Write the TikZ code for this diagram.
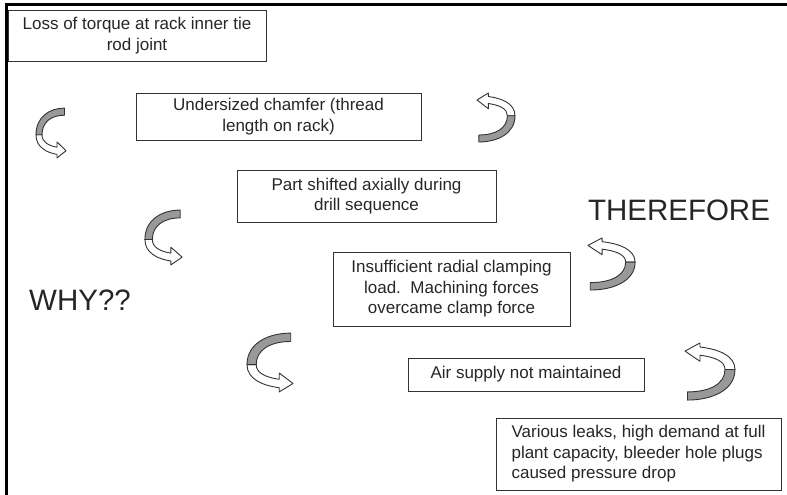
\documentclass[tikz,border=0pt]{standalone}
\usepackage{fontspec}
\setmainfont{Liberation Sans}

\tikzset{
  turnarrow/.pic={
    % white part with the head
    \draw[line width=0.9pt, fill=white, line join=round]
      (-20,2) .. controls (-20,16) and (-6,22) .. (8,24) -- (8,28) -- (20,20) -- (8,10) -- (8,16)
      .. controls (-4,14) and (-12,10) .. (-12,2) -- cycle;
    % grey part
    \draw[line width=0.9pt, fill=black!40, line join=round]
      (18,-28) .. controls (-2,-28) and (-20,-18) .. (-20,2) -- (-12,2)
      .. controls (-12,-12) and (0,-20) .. (18,-20) -- cycle;
  }
}

\begin{document}
\begin{tikzpicture}[x=1pt, y=-1pt,
        every node/.style = {shape=rectangle, draw=black!80, line width=0.9pt,
                             align=center, inner sep=0pt, text=black!85,
                             font=\fontsize{17}{20.5}\selectfont},
        big/.style = {draw=none, font=\fontsize{29.5}{34}\selectfont}]
    \useasboundingbox (0,0) rectangle (787,495);
    \draw[line width=3pt] (6,495) -- (6,5) -- (787,5);

    \node[minimum width=258pt, minimum height=51pt] (loss) at (137,35.5)
        {Loss of torque at rack inner tie\\rod joint};
    \node[minimum width=285pt, minimum height=47pt] (chamfer) at (278.5,116.5)
        {Undersized chamfer (thread\\length on rack)};
    \node[minimum width=259pt, minimum height=52pt] (shifted) at (366.5,196)
        {Part shifted axially during\\drill sequence};
    \node[minimum width=237pt, minimum height=74pt] (clamping) at (451.5,289)
        {Insufficient radial clamping\\load.~~Machining forces\\overcame clamp force};
    \node[minimum width=236pt, minimum height=33pt] (air) at (526,374.5)
        {Air supply not maintained};
    \node[minimum width=285pt, minimum height=72pt, align=left] (leaks) at (638.5,454)
        {Various leaks, high demand at full\\plant capacity, bleeder hole plugs\\caused pressure drop};

    \node[big] (why) at (80,300) {WHY??};
    \node[big] (therefore) at (679,210) {THEREFORE};

    \pic[xscale=0.75, yscale=0.89] at (51,133) {turnarrow};
    \pic[xscale=0.93, yscale=0.98] at (163.5,237.5) {turnarrow};
    \pic[xscale=1.15, yscale=1.05] at (270,362.5) {turnarrow};
    \pic[rotate=180, xscale=0.95, yscale=0.875] at (496,117.5) {turnarrow};
    \pic[rotate=180, xscale=1.18, yscale=0.93] at (611.5,264) {turnarrow};
    \pic[rotate=180, xscale=1.25, yscale=1.02] at (710,371.5) {turnarrow};
\end{tikzpicture}
\end{document}
